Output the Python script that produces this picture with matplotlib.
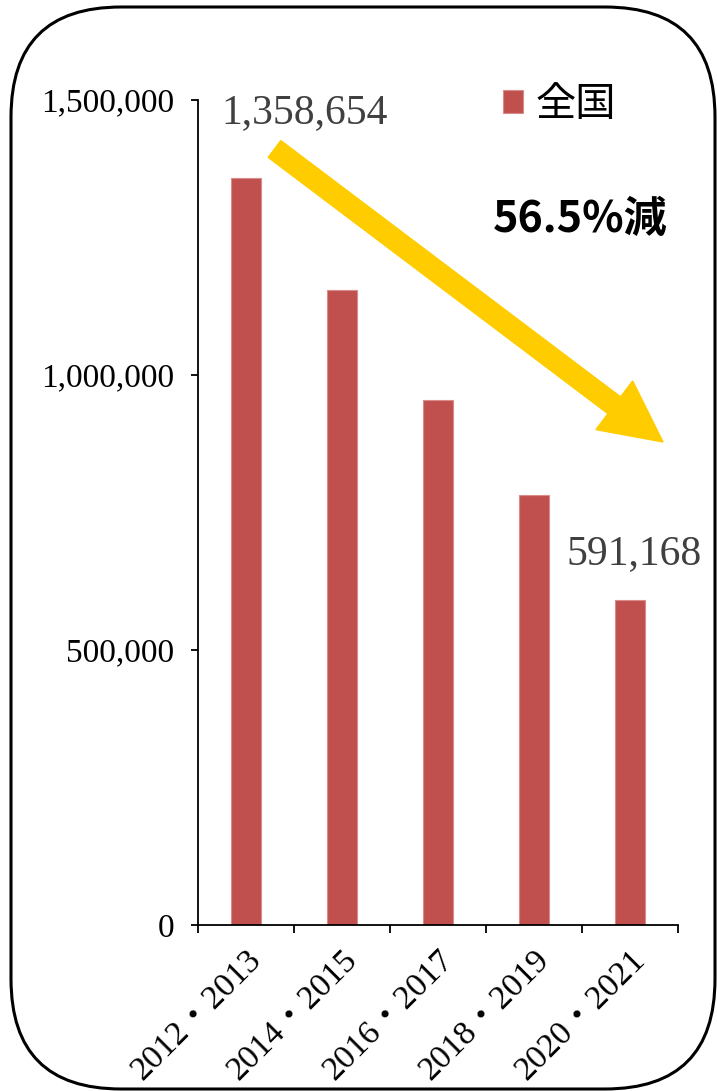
import matplotlib
matplotlib.use("Agg")
import matplotlib.pyplot as plt
from matplotlib.patches import FancyBboxPatch, FancyArrow
from matplotlib.transforms import IdentityTransform
from matplotlib.ticker import FuncFormatter, FixedLocator

categories = ["2012・2013", "2014・2015", "2016・2017", "2018・2019", "2020・2021"]
values = [1358654, 1154500, 954500, 781800, 591168]
series_name = "全国"
yticks = [0, 500000, 1000000, 1500000]
first_label = "1,358,654"
last_label = "591,168"
change_label = "56.5%減"

W, H = 717, 1091
fig = plt.figure(figsize=(W / 100, H / 100), dpi=100)
fig.patch.set_facecolor("white")

serif = ["Liberation Serif", "Noto Sans CJK JP"]
cjk = ["Noto Sans CJK JP", "DejaVu Sans"]

ax = fig.add_axes([198 / W, (H - 925) / H, (678 - 198) / W, (925 - 100) / H])
x = list(range(len(categories)))
ax.bar(x, values, width=0.31, color="#C0504D", edgecolor="#D98C8A", linewidth=0.8,
       label=series_name, zorder=2)
ax.set_xlim(-0.5, len(categories) - 0.5)
ax.set_ylim(0, 1500000)

for s in ["top", "right"]:
    ax.spines[s].set_visible(False)
for s in ["left", "bottom"]:
    ax.spines[s].set_linewidth(1.3)
    ax.spines[s].set_color("black")

ax.set_yticks(yticks)
ax.yaxis.set_major_formatter(FuncFormatter(lambda v, p: f"{int(v):,}"))
ax.tick_params(axis="y", direction="out", length=5, width=1.3, pad=12)
for t in ax.get_yticklabels():
    t.set_family(serif)
    t.set_fontsize(24)

# category boundaries as major ticks, labels at centers via minor ticks
ax.xaxis.set_major_locator(FixedLocator([i - 0.5 for i in range(len(categories) + 1)]))
ax.xaxis.set_major_formatter(FuncFormatter(lambda v, p: ""))
ax.xaxis.set_minor_locator(FixedLocator(x))
ax.set_xticklabels(categories, minor=True)
ax.tick_params(axis="x", which="major", direction="out", length=6, width=1.3)
ax.tick_params(axis="x", which="minor", length=0, pad=14)
for t in ax.get_xticklabels(minor=True):
    t.set_family(serif)
    t.set_fontsize(24.5)
    t.set_rotation(45)
    t.set_ha("right")
    t.set_va("top")
    t.set_rotation_mode("anchor")

# value labels
ax.annotate(first_label, (x[0], values[0]), xytext=(59, 65), textcoords="offset pixels",
            fontsize=30, family=serif, color="#404040", ha="center", va="center")
ax.annotate(last_label, (x[-1], values[-1]), xytext=(4, 27), textcoords="offset pixels",
            fontsize=30, family=serif, color="#404040", ha="center", va="bottom")

# legend
leg = ax.legend(loc="upper left", bbox_to_anchor=(503 / W, (H - 84) / H),
                bbox_transform=fig.transFigure, frameon=False, handlelength=0.5,
                handleheight=0.5, handletextpad=0.3, borderpad=0, borderaxespad=0,
                prop={"family": cjk, "size": 29})

# change label
fig.text(580 / W, (H - 219) / H, change_label, fontsize=31, fontweight="bold",
         family=cjk, ha="center", va="center", color="black")

# arrow (decoration)
tail = (274.5, H - 149)
tip = (663, H - 442)
arr = FancyArrow(tail[0], tail[1], tip[0] - tail[0], tip[1] - tail[1], width=21,
                 head_width=61, head_length=61, length_includes_head=True,
                 color="#FFCC00", transform=IdentityTransform(), zorder=5)
fig.patches.append(arr)
arr.set_figure(fig)

# rounded frame
frame = FancyBboxPatch((11, H - 1089), 704, 1082, boxstyle="round,pad=0,rounding_size=110",
                       fill=False, edgecolor="black", linewidth=2.2,
                       transform=IdentityTransform())
fig.patches.append(frame)
frame.set_figure(fig)

fig.savefig("out.png", dpi=100)
